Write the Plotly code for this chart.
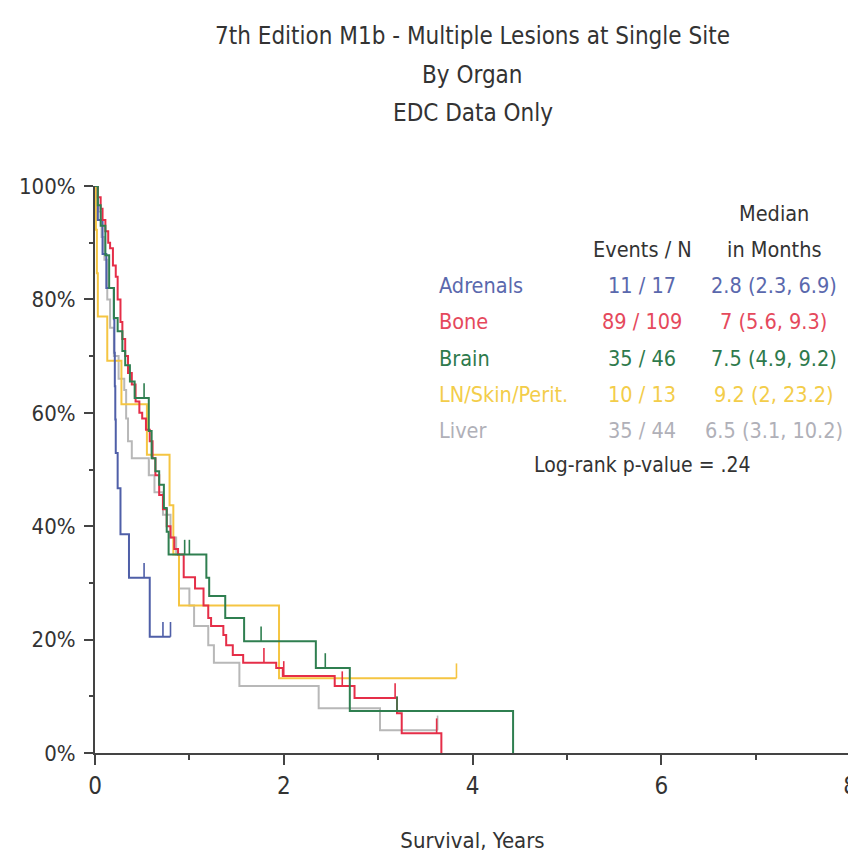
import plotly.graph_objects as go

FONT = "Liberation Sans Narrow, Arial Narrow, DejaVu Sans Condensed, sans-serif"

groups = ["Adrenals", "Bone", "Brain", "LN/Skin/Perit.", "Liver"]
events_n = ["11 / 17", "89 / 109", "35 / 46", "10 / 13", "35 / 44"]
medians = ["2.8 (2.3, 6.9)", "7 (5.6, 9.3)", "7.5 (4.9, 9.2)", "9.2 (2, 23.2)", "6.5 (3.1, 10.2)"]
line_colors = ["#4f5fa8", "#e52e48", "#2f7f50", "#f5c542", "#b8b8b8"]
text_colors = ["#5a68ad", "#e5495c", "#2e7a4c", "#f3cd4a", "#b0b0b8"]

# Kaplan-Meier step points (time in years, survival fraction)
adrenals_t = [0, 0.03, 0.08, 0.12, 0.20, 0.205, 0.21, 0.215, 0.22, 0.24, 0.27, 0.36, 0.58]
adrenals_s = [1, 0.94, 0.88, 0.82, 0.765, 0.706, 0.647, 0.588, 0.529, 0.467, 0.386, 0.309, 0.205]
adrenals_end = 0.80
adrenals_cens = [0.52, 0.72, 0.80]

bone_t = [0, 0.03, 0.06, 0.08, 0.11, 0.14, 0.16, 0.19, 0.22, 0.24, 0.27, 0.29, 0.32, 0.35,
          0.39, 0.43, 0.47, 0.50, 0.54, 0.58, 0.61, 0.64, 0.68, 0.72, 0.76, 0.80, 0.84, 0.88,
          0.94, 1.06, 1.15, 1.20, 1.23, 1.36, 1.39, 1.46, 1.57, 1.92, 1.99, 2.54, 2.75, 3.20,
          3.25, 3.67]
bone_s = [1, 0.98, 0.96, 0.94, 0.92, 0.90, 0.89, 0.86, 0.84, 0.80, 0.76, 0.73, 0.70, 0.67,
          0.65, 0.62, 0.60, 0.59, 0.57, 0.55, 0.52, 0.49, 0.455, 0.43, 0.40, 0.38, 0.36, 0.35,
          0.31, 0.29, 0.26, 0.238, 0.224, 0.208, 0.19, 0.173, 0.159, 0.15, 0.136, 0.118, 0.097,
          0.07, 0.035, 0.0]
bone_end = 3.67
bone_cens = [0.72, 1.79, 2.0, 2.62, 3.18, 3.62]

brain_t = [0, 0.03, 0.06, 0.11, 0.15, 0.20, 0.24, 0.29, 0.32, 0.37, 0.42, 0.57, 0.60, 0.64,
           0.68, 0.73, 0.76, 0.78, 1.18, 1.21, 1.38, 1.58, 2.34, 2.70, 4.43]
brain_s = [1, 0.966, 0.93, 0.878, 0.82, 0.767, 0.744, 0.709, 0.684, 0.655, 0.626, 0.568, 0.52,
           0.497, 0.473, 0.432, 0.39, 0.35, 0.309, 0.277, 0.238, 0.197, 0.15, 0.074, 0.0]
brain_end = 4.43
brain_cens = [0.52, 0.95, 1.0, 1.76, 2.44, 3.2]

ln_t = [0, 0.01, 0.02, 0.03, 0.13, 0.28, 0.55, 0.79, 0.83, 0.89, 1.95]
ln_s = [1, 0.923, 0.846, 0.77, 0.692, 0.615, 0.526, 0.437, 0.35, 0.26, 0.132]
ln_end = 3.83
ln_cens = [3.83]

liver_t = [0, 0.03, 0.07, 0.10, 0.13, 0.16, 0.20, 0.25, 0.31, 0.33, 0.35, 0.39, 0.57, 0.63,
           0.72, 0.80, 0.86, 0.89, 1.00, 1.05, 1.20, 1.26, 1.53, 2.37, 3.02]
liver_s = [1, 0.955, 0.91, 0.87, 0.80, 0.75, 0.70, 0.66, 0.64, 0.59, 0.55, 0.52, 0.49, 0.46,
           0.42, 0.38, 0.35, 0.29, 0.26, 0.224, 0.19, 0.159, 0.118, 0.079, 0.04]
liver_end = 3.63
liver_cens = [0.57, 3.63]

series = {
    "Adrenals": (adrenals_t, adrenals_s, adrenals_end, adrenals_cens),
    "Bone": (bone_t, bone_s, bone_end, bone_cens),
    "Brain": (brain_t, brain_s, brain_end, brain_cens),
    "LN/Skin/Perit.": (ln_t, ln_s, ln_end, ln_cens),
    "Liver": (liver_t, liver_s, liver_end, liver_cens),
}

y_tickvals = [0, 0.2, 0.4, 0.6, 0.8, 1.0]
y_ticktext = ["0%", "20%", "40%", "60%", "80%", "100%"]
x_tickvals = [0, 2, 4, 6, 8]

title_lines = ["7th Edition M1b - Multiple Lesions at Single Site", "By Organ", "EDC Data Only"]


def step_value(ts, ss, c):
    v = ss[0]
    for t, s in zip(ts, ss):
        if t <= c:
            v = s
    return v


fig = go.Figure()
draw_order = ["Liver", "LN/Skin/Perit.", "Adrenals", "Bone", "Brain"]
for name in draw_order:
    i = groups.index(name)
    ts, ss, end, cens = series[name]
    xs = list(ts) + [end]
    ys = list(ss) + [ss[-1]]
    fig.add_trace(go.Scatter(x=xs, y=ys, mode="lines", cliponaxis=False,
                             line=dict(shape="hv", color=line_colors[i], width=2),
                             showlegend=False, hoverinfo="skip"))
    cx, cy = [], []
    for c in cens:
        v = step_value(ts, ss, c)
        cx += [c, c, None]
        cy += [v, v + 0.026, None]
    fig.add_trace(go.Scatter(x=cx, y=cy, mode="lines", cliponaxis=False,
                             line=dict(color=line_colors[i], width=1.6),
                             showlegend=False, hoverinfo="skip"))


def py(p):
    return (745 - p) / 567


annotations = []
for line, yp in zip(title_lines, [28, 67, 105]):
    annotations.append(dict(text=line, xref="paper", yref="paper", x=0.5,
                            y=py(yp), xanchor="center", yanchor="middle",
                            showarrow=False, font=dict(family=FONT, size=24, color="#333333")))

row_y = [277, 313, 350, 386, 422]
col_label_x = 3.62
col_events_x = 5.80
col_median_x = 7.19
LSIZE = 21.5

annotations.append(dict(text="Median", x=col_median_x, y=py(205), xref="x", yref="y", xanchor="center",
                        yanchor="middle", showarrow=False, font=dict(family=FONT, size=LSIZE, color="#333333")))
annotations.append(dict(text="Events / N", x=col_events_x, y=py(241), xref="x", yref="y", xanchor="center",
                        yanchor="middle", showarrow=False, font=dict(family=FONT, size=LSIZE, color="#333333")))
annotations.append(dict(text="in Months", x=col_median_x, y=py(241), xref="x", yref="y", xanchor="center",
                        yanchor="middle", showarrow=False, font=dict(family=FONT, size=LSIZE, color="#333333")))
for i, g in enumerate(groups):
    annotations.append(dict(text=g, x=col_label_x, y=py(row_y[i]), xref="x", yref="y", xanchor="left",
                            yanchor="middle", showarrow=False,
                            font=dict(family=FONT, size=LSIZE, color=text_colors[i])))
    annotations.append(dict(text=events_n[i], x=col_events_x, y=py(row_y[i]), xref="x", yref="y",
                            xanchor="center", yanchor="middle", showarrow=False,
                            font=dict(family=FONT, size=LSIZE, color=text_colors[i])))
    annotations.append(dict(text=medians[i], x=col_median_x, y=py(row_y[i]), xref="x", yref="y",
                            xanchor="center", yanchor="middle", showarrow=False,
                            font=dict(family=FONT, size=LSIZE, color=text_colors[i])))
annotations.append(dict(text="Log-rank p-value = .24", x=5.80, y=py(457), xref="x", yref="y",
                        xanchor="center", yanchor="middle", showarrow=False,
                        font=dict(family=FONT, size=21, color="#333333")))

fig.update_layout(
    width=856, height=857,
    margin=dict(l=87, r=7, t=178, b=112),
    paper_bgcolor="white", plot_bgcolor="white",
    annotations=annotations,
    showlegend=False,
)
fig.update_xaxes(range=[0, 8], tickvals=x_tickvals, ticks="outside", ticklen=10, tickwidth=1.5,
                 tickcolor="#444444", showline=True, linecolor="#444444", linewidth=2,
                 showgrid=False, zeroline=False,
                 minor=dict(dtick=1, ticklen=5, tickwidth=1.5, tickcolor="#444444", ticks="outside"),
                 tickfont=dict(family=FONT, size=24, color="#333333"),
                 title=dict(text="Survival, Years", font=dict(family=FONT, size=22, color="#333333"),
                            standoff=34))
fig.update_yaxes(range=[0, 1], tickvals=y_tickvals, ticktext=y_ticktext, ticks="outside", ticklen=9,
                 tickwidth=1.5, tickcolor="#444444", showline=True, linecolor="#444444", linewidth=2,
                 showgrid=False, zeroline=False, ticklabelstandoff=4,
                 minor=dict(dtick=0.1, ticklen=4, tickwidth=1.5, tickcolor="#444444", ticks="outside"),
                 tickfont=dict(family=FONT, size=22, color="#333333"))

fig.write_html("out.html")
